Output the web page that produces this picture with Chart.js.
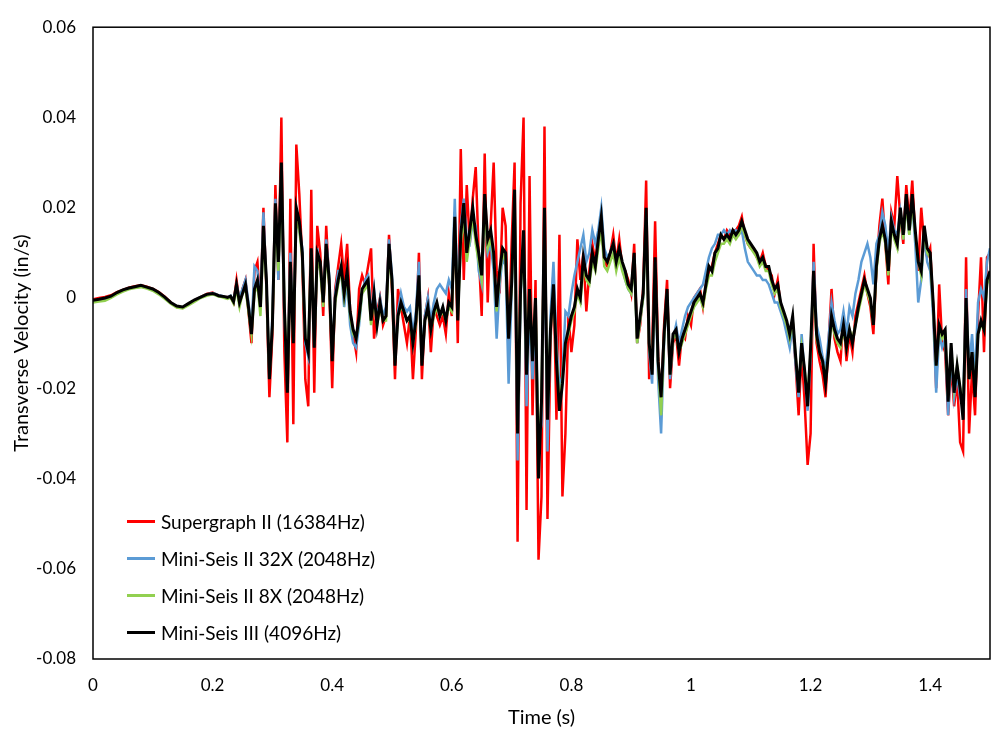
<!doctype html>
<html>
    <head>
        <meta charset="UTF-8" />
        <title>Transverse Velocity</title>
        <script src="https://cdn.jsdelivr.net/npm/chart.js"></script>
        <style>
            body { margin: 0; background: #fff; }
            #wrap { position: relative; width: 997px; height: 734px; }
            #legend { position: absolute; left: 127px; top: 503px; font-family: Lato, sans-serif; font-size: 19px; color: #000; }
            #legend div { height: 37px; display: flex; align-items: center; white-space: nowrap; }
            #legend span.sw { display: inline-block; width: 28px; height: 2.5px; margin-right: 6px; }
        </style>
    </head>

    <body>
        <div id="wrap">
            <canvas id="myChart"></canvas>
            <div id="legend"></div>
        </div>

        <script>
        // Sample times (s): 0.01 s steps in the quiet lead-in, 0.005 s afterwards
        var time = [
            0,0.01,0.02,0.03,0.04,0.05,0.06,0.07,0.08,0.09,
            0.1,0.11,0.12,0.13,0.14,0.15,0.16,0.17,0.18,0.19,
            0.2,0.205,0.21,0.215,0.22,0.225,0.23,0.235,0.24,0.245,
            0.25,0.255,0.26,0.265,0.27,0.275,0.28,0.285,0.29,0.295,
            0.3,0.305,0.31,0.315,0.32,0.325,0.33,0.335,0.34,0.345,
            0.35,0.355,0.36,0.365,0.37,0.375,0.38,0.385,0.39,0.395,
            0.4,0.405,0.41,0.415,0.42,0.425,0.43,0.435,0.44,0.445,
            0.45,0.455,0.46,0.465,0.47,0.475,0.48,0.485,0.49,0.495,
            0.5,0.505,0.51,0.515,0.52,0.525,0.53,0.535,0.54,0.545,
            0.55,0.555,0.56,0.565,0.57,0.575,0.58,0.585,0.59,0.595,
            0.6,0.605,0.61,0.615,0.62,0.625,0.63,0.635,0.64,0.645,
            0.65,0.655,0.66,0.665,0.67,0.675,0.68,0.685,0.69,0.695,
            0.7,0.705,0.71,0.715,0.72,0.725,0.73,0.735,0.74,0.745,
            0.75,0.755,0.76,0.765,0.77,0.775,0.78,0.785,0.79,0.795,
            0.8,0.805,0.81,0.815,0.82,0.825,0.83,0.835,0.84,0.845,
            0.85,0.855,0.86,0.865,0.87,0.875,0.88,0.885,0.89,0.895,
            0.9,0.905,0.91,0.915,0.92,0.925,0.93,0.935,0.94,0.945,
            0.95,0.955,0.96,0.965,0.97,0.975,0.98,0.985,0.99,0.995,
            1,1.005,1.01,1.015,1.02,1.025,1.03,1.035,1.04,1.045,
            1.05,1.055,1.06,1.065,1.07,1.075,1.08,1.085,1.09,1.095,
            1.1,1.105,1.11,1.115,1.12,1.125,1.13,1.135,1.14,1.145,
            1.15,1.155,1.16,1.165,1.17,1.175,1.18,1.185,1.19,1.195,
            1.2,1.205,1.21,1.215,1.22,1.225,1.23,1.235,1.24,1.245,
            1.25,1.255,1.26,1.265,1.27,1.275,1.28,1.285,1.29,1.295,
            1.3,1.305,1.31,1.315,1.32,1.325,1.33,1.335,1.34,1.345,
            1.35,1.355,1.36,1.365,1.37,1.375,1.38,1.385,1.39,1.395,
            1.4,1.405,1.41,1.415,1.42,1.425,1.43,1.435,1.44,1.445,
            1.45,1.455,1.46,1.465,1.47,1.475,1.48,1.485,1.49,1.495,
            1.5
        ];

        // Supergraph II (16384Hz), in/s
        var supergraph = [
            -0.0003,0.0000,0.0002,0.0006,0.0013,0.0018,0.0023,0.0026,0.0028,0.0025,
            0.0020,0.0013,0.0003,-0.0010,-0.0020,-0.0022,-0.0013,-0.0005,0.0002,0.0009,
            0.0012,0.0008,0.0006,0.0004,0.0002,0.0002,0.0003,-0.0010,0.004,-0.001,
            0.002,0.004,-0.003,-0.010,0.006,0.008,-0.002,0.020,0.002,-0.022,
            -0.008,0.025,0.004,0.040,-0.012,-0.032,0.022,-0.028,0.034,0.023,
            0.008,-0.018,-0.024,0.024,-0.021,0.016,0.010,-0.004,0.016,0.003,
            -0.020,0.002,0.007,0.012,0.004,0.012,-0.003,-0.008,-0.012,0.002,
            0.005,0.003,0.007,0.011,-0.009,-0.003,0.000,-0.006,-0.004,0.014,
            0.002,-0.018,0.002,-0.002,-0.006,-0.010,-0.004,-0.018,-0.007,0.010,
            -0.018,-0.004,0.000,-0.012,-0.002,-0.004,-0.006,-0.004,-0.008,0.001,
            -0.004,0.019,-0.010,0.033,0.004,0.025,0.012,0.022,0.029,0.010,
            -0.004,0.032,-0.001,0.016,0.030,0.006,0.001,0.020,0.016,-0.010,
            0.012,0.030,-0.054,0.021,0.040,-0.047,0.027,-0.026,0.004,-0.058,
            -0.044,0.038,-0.049,-0.010,0.006,-0.027,0.014,-0.044,-0.030,-0.004,
            -0.012,-0.006,0.013,0.004,0.010,-0.003,0.006,0.012,0.008,0.014,
            0.017,0.008,0.007,0.010,0.014,0.008,0.013,0.007,0.006,0.004,
            0.001,0.012,-0.010,-0.006,0.002,0.026,-0.018,-0.012,0.017,-0.013,
            -0.024,-0.006,0.004,-0.020,-0.010,-0.008,-0.015,-0.008,-0.009,-0.004,
            -0.006,0.000,0.001,0.002,-0.002,0.003,0.006,0.007,0.010,0.012,
            0.014,0.013,0.015,0.014,0.015,0.015,0.016,0.018,0.014,0.012,
            0.011,0.011,0.009,0.008,0.010,0.007,0.006,0.005,0.001,0.004,
            -0.002,-0.004,-0.007,-0.010,-0.005,-0.015,-0.026,-0.012,-0.023,-0.037,
            -0.030,0.012,-0.010,-0.014,-0.017,-0.022,-0.010,0.002,-0.009,-0.012,
            -0.014,-0.004,-0.014,-0.008,-0.012,-0.004,-0.001,0.002,0.005,0.001,
            -0.002,-0.008,0.006,0.016,0.022,0.012,0.003,0.019,0.016,0.027,
            0.018,0.012,0.025,0.017,0.026,0.014,0.006,0.020,0.012,0.009,
            0.011,-0.002,-0.020,0.003,-0.010,-0.012,-0.026,-0.015,-0.024,-0.018,
            -0.032,-0.034,0.009,-0.030,-0.016,-0.026,-0.004,0.009,-0.012,0.009,
            0.010
        ];

        // Mini-Seis II 32X (2048Hz)
        var miniSeis32x = [
            -0.0008,-0.0005,-0.0004,0.0002,0.0010,0.0016,0.0021,0.0024,0.0026,0.0023,
            0.0018,0.0010,0.0000,-0.0011,-0.0019,-0.0021,-0.0014,-0.0005,0.0002,0.0008,
            0.0011,0.0009,0.0006,0.0005,0.0003,0.0002,0.0005,-0.0006,0.003,0.000,
            0.002,0.004,-0.001,-0.007,0.007,0.006,-0.001,0.019,0.003,-0.017,
            -0.004,0.022,0.004,0.029,-0.004,-0.019,0.010,-0.008,0.019,0.015,
            0.011,-0.010,-0.013,0.010,-0.010,0.011,0.007,0.000,0.013,0.005,
            -0.013,0.001,0.006,0.006,-0.002,0.004,-0.006,-0.010,-0.011,-0.006,
            0.001,0.004,0.005,-0.004,0.002,-0.005,0.000,-0.004,-0.002,0.013,
            0.005,-0.013,-0.003,0.001,-0.002,-0.003,-0.002,-0.008,-0.003,0.008,
            -0.013,-0.004,0.000,-0.005,-0.001,0.002,0.003,0.002,0.001,0.004,
            0.002,0.022,-0.002,0.016,0.022,0.013,0.012,0.017,0.016,0.006,
            0.003,0.020,0.010,0.012,0.006,-0.009,0.003,0.009,0.007,-0.019,
            0.001,0.020,-0.036,0.000,0.012,-0.024,-0.002,-0.018,-0.004,-0.032,
            -0.028,0.016,-0.034,-0.004,0.008,-0.010,-0.020,-0.017,-0.003,-0.004,
            0.001,0.005,0.008,0.011,0.014,0.008,0.010,0.015,0.012,0.015,
            0.020,0.011,0.009,0.010,0.012,0.008,0.010,0.007,0.004,0.002,
            0.001,0.009,-0.010,-0.005,0.000,0.018,-0.012,-0.019,0.008,-0.018,
            -0.030,-0.010,0.001,-0.018,-0.009,-0.006,-0.010,-0.007,-0.004,-0.002,
            -0.001,0.000,0.001,0.002,0.003,0.006,0.009,0.011,0.012,0.014,
            0.014,0.015,0.014,0.015,0.014,0.015,0.014,0.015,0.011,0.008,
            0.007,0.006,0.005,0.005,0.004,0.004,0.003,0.001,-0.001,-0.001,
            -0.003,-0.005,-0.008,-0.011,-0.006,-0.015,-0.022,-0.008,-0.017,-0.025,
            -0.013,0.008,-0.006,-0.009,-0.013,-0.016,-0.009,-0.001,-0.005,-0.008,
            -0.007,-0.003,-0.008,-0.002,-0.004,0.001,0.004,0.008,0.010,0.012,
            0.009,0.003,0.012,0.014,0.019,0.016,0.010,0.018,0.015,0.014,
            0.019,0.013,0.021,0.014,0.021,0.012,-0.001,0.004,0.014,0.008,
            0.006,-0.004,-0.021,-0.008,-0.011,-0.009,-0.026,-0.013,-0.022,-0.017,
            -0.022,-0.024,0.002,-0.016,-0.008,-0.018,-0.001,0.002,0.000,0.008,
            0.011
        ];

        // Mini-Seis II 8X (2048Hz)
        var miniSeis8x = [
            -0.0010,-0.0008,-0.0006,0.0000,0.0008,0.0014,0.0019,0.0022,0.0024,0.0021,
            0.0016,0.0008,-0.0002,-0.0013,-0.0021,-0.0023,-0.0016,-0.0008,0.0000,0.0005,
            0.0008,0.0006,0.0003,0.0002,0.0000,-0.0002,0.0001,-0.0012,0.002,-0.002,
            0.001,0.002,-0.003,-0.008,0.001,0.003,-0.004,0.014,0.003,-0.017,
            -0.006,0.019,0.006,0.027,-0.001,-0.019,0.006,-0.009,0.018,0.015,
            0.009,-0.009,-0.011,0.010,-0.010,0.009,0.006,-0.002,0.010,0.003,
            -0.013,-0.001,0.003,0.006,0.000,0.005,-0.004,-0.008,-0.009,-0.005,
            0.001,0.002,0.003,-0.006,0.000,-0.006,-0.002,-0.005,-0.005,0.010,
            0.003,-0.014,-0.004,-0.002,-0.003,-0.005,-0.005,-0.010,-0.006,0.004,
            -0.014,-0.005,-0.003,-0.007,-0.004,-0.002,-0.004,-0.003,-0.005,-0.002,
            -0.003,0.016,-0.004,0.012,0.018,0.008,0.013,0.018,0.012,0.008,
            0.004,0.020,0.011,0.013,0.009,-0.003,0.005,0.010,0.008,-0.008,
            0.002,0.021,-0.027,0.001,0.013,-0.016,0.001,-0.013,-0.001,-0.036,
            -0.022,0.017,-0.025,-0.007,0.002,-0.013,-0.023,-0.018,-0.010,-0.008,
            -0.005,-0.003,0.001,-0.001,0.007,0.004,0.003,0.008,0.006,0.011,
            0.015,0.007,0.006,0.008,0.010,0.006,0.009,0.006,0.004,0.002,
            0.001,0.008,-0.010,-0.005,0.000,0.017,-0.011,-0.016,0.007,-0.015,
            -0.026,-0.009,0.001,-0.017,-0.009,-0.008,-0.012,-0.010,-0.008,-0.006,
            -0.004,-0.002,-0.001,0.000,-0.002,0.002,0.005,0.005,0.008,0.010,
            0.012,0.012,0.013,0.012,0.014,0.013,0.014,0.016,0.014,0.012,
            0.011,0.010,0.009,0.007,0.008,0.006,0.006,0.003,0.001,0.002,
            -0.002,-0.004,-0.006,-0.009,-0.005,-0.013,-0.020,-0.011,-0.016,-0.022,
            -0.012,0.004,-0.009,-0.012,-0.014,-0.018,-0.012,-0.005,-0.008,-0.010,
            -0.011,-0.007,-0.011,-0.007,-0.009,-0.006,-0.003,0.000,0.003,0.001,
            -0.001,-0.006,0.006,0.012,0.015,0.012,0.005,0.016,0.013,0.011,
            0.019,0.013,0.021,0.014,0.021,0.014,0.008,0.005,0.015,0.010,
            0.009,-0.002,-0.015,-0.007,-0.009,-0.008,-0.022,-0.011,-0.020,-0.015,
            -0.020,-0.025,-0.002,-0.018,-0.012,-0.021,-0.008,-0.006,-0.007,0.003,
            0.005
        ];

        // Mini-Seis III (4096Hz)
        var miniSeis3 = [
            -0.0005,-0.0003,0.0000,0.0004,0.0012,0.0018,0.0022,0.0025,0.0028,0.0024,
            0.0020,0.0012,0.0002,-0.0010,-0.0018,-0.0020,-0.0012,-0.0004,0.0002,0.0008,
            0.0010,0.0008,0.0005,0.0004,0.0003,0.0001,0.0004,-0.0008,0.003,-0.001,
            0.001,0.003,-0.002,-0.008,0.002,0.004,-0.002,0.016,0.004,-0.018,
            -0.006,0.021,0.008,0.030,-0.002,-0.021,0.008,-0.010,0.020,0.017,
            0.010,-0.009,-0.012,0.011,-0.011,0.010,0.008,-0.001,0.012,0.004,
            -0.014,0.000,0.004,0.007,0.001,0.006,-0.003,-0.007,-0.009,-0.004,
            0.002,0.003,0.004,-0.005,0.001,-0.006,-0.001,-0.005,-0.004,0.012,
            0.004,-0.015,-0.004,-0.001,-0.003,-0.005,-0.004,-0.010,-0.005,0.005,
            -0.015,-0.005,-0.002,-0.007,-0.003,-0.001,-0.004,-0.002,-0.005,-0.001,
            -0.002,0.018,-0.005,0.014,0.021,0.010,0.015,0.020,0.014,0.010,
            0.005,0.023,0.013,0.015,0.010,-0.002,0.006,0.011,0.010,-0.009,
            0.003,0.024,-0.030,0.002,0.015,-0.017,0.002,-0.014,0.000,-0.040,
            -0.023,0.020,-0.027,-0.007,0.003,-0.014,-0.025,-0.019,-0.010,-0.007,
            -0.004,-0.002,0.002,0.000,0.009,0.005,0.004,0.010,0.007,0.013,
            0.018,0.009,0.008,0.010,0.012,0.008,0.011,0.008,0.006,0.003,
            0.002,0.010,-0.009,-0.004,0.001,0.020,-0.010,-0.017,0.009,-0.014,
            -0.022,-0.008,0.002,-0.017,-0.008,-0.007,-0.012,-0.009,-0.007,-0.005,
            -0.003,-0.001,0.000,0.001,-0.001,0.003,0.007,0.006,0.010,0.011,
            0.014,0.013,0.014,0.013,0.015,0.014,0.015,0.017,0.015,0.013,
            0.012,0.011,0.010,0.008,0.009,0.007,0.007,0.004,0.002,0.003,
            -0.001,-0.003,-0.005,-0.008,-0.004,-0.013,-0.021,-0.010,-0.016,-0.024,
            -0.011,0.006,-0.008,-0.012,-0.014,-0.019,-0.012,-0.004,-0.007,-0.009,
            -0.010,-0.006,-0.011,-0.007,-0.010,-0.006,-0.002,0.001,0.004,0.002,
            0.000,-0.006,0.007,0.013,0.016,0.013,0.006,0.017,0.014,0.012,
            0.020,0.014,0.023,0.015,0.023,0.015,0.008,0.006,0.016,0.011,
            0.010,-0.001,-0.015,-0.006,-0.008,-0.007,-0.023,-0.010,-0.021,-0.015,
            -0.020,-0.027,0.000,-0.018,-0.012,-0.022,-0.008,-0.005,-0.007,0.004,
            0.006
        ];

        var seriesNames = ['Supergraph II (16384Hz)', 'Mini-Seis II 32X (2048Hz)', 'Mini-Seis II 8X (2048Hz)', 'Mini-Seis III (4096Hz)'];
        var seriesColors = ['#FF0000', '#5B9BD5', '#92D050', '#000000'];

        var xTicks = [0, 0.2, 0.4, 0.6, 0.8, 1, 1.2, 1.4];
        var xTickLabels = ['0', '0.2', '0.4', '0.6', '0.8', '1', '1.2', '1.4'];
        var yTicks = [-0.08, -0.06, -0.04, -0.02, 0, 0.02, 0.04, 0.06];
        var yTickLabels = ['-0.08', '-0.06', '-0.04', '-0.02', '0', '0.02', '0.04', '0.06'];

        function points(values) {
            if (values.length !== time.length) console.error('length mismatch', values.length, time.length);
            return time.map(function (t, i) { return { x: t, y: values[i] }; });
        }

        // plot frame on all four sides
        var frame = {
            id: 'frame',
            afterDraw: function (chart) {
                var a = chart.chartArea, c = chart.ctx;
                c.save();
                c.strokeStyle = '#000';
                c.lineWidth = 1.5;
                c.strokeRect(a.left, a.top, a.right - a.left, a.bottom - a.top);
                c.restore();
            }
        };

        var tickFont = { family: 'Lato', size: 17 };
        var titleFont = { family: 'Lato', size: 20 };

        var ctx = document.getElementById('myChart').getContext('2d');
        var myChart = new Chart(ctx, {
            type: 'line',
            data: {
                datasets: [
                    { label: seriesNames[0], data: points(supergraph), borderColor: seriesColors[0], borderWidth: 2.5, order: 4 },
                    { label: seriesNames[1], data: points(miniSeis32x), borderColor: seriesColors[1], borderWidth: 2.5, order: 3 },
                    { label: seriesNames[2], data: points(miniSeis8x), borderColor: seriesColors[2], borderWidth: 2.5, order: 2 },
                    { label: seriesNames[3], data: points(miniSeis3), borderColor: seriesColors[3], borderWidth: 3, order: 1 }
                ]
            },
            options: {
                responsive: true,
                maintainAspectRatio: false,
                animation: false,
                events: [],
                elements: { point: { radius: 0 }, line: { tension: 0, fill: false } },
                layout: { padding: { top: 20, right: 7, left: 0, bottom: 0 } },
                plugins: { legend: { display: false }, tooltip: { enabled: false } },
                scales: {
                    x: {
                        type: 'linear',
                        min: 0,
                        max: 1.5,
                        grid: { display: false, drawTicks: false },
                        border: { display: false },
                        afterBuildTicks: function (s) { s.ticks = xTicks.map(function (v) { return { value: v }; }); },
                        afterFit: function (s) { s.height = 75; },
                        ticks: {
                            padding: 16,
                            color: '#000',
                            font: tickFont,
                            maxRotation: 0,
                            callback: function (v) { return xTickLabels[xTicks.indexOf(v)]; }
                        },
                        title: { display: true, text: 'Time (s)', color: '#000', font: titleFont, padding: { top: 4, bottom: 4 } }
                    },
                    y: {
                        min: -0.08,
                        max: 0.06,
                        grid: { display: false, drawTicks: false },
                        border: { display: false },
                        afterBuildTicks: function (s) { s.ticks = yTicks.map(function (v) { return { value: v }; }); },
                        afterFit: function (s) { s.width = 93; },
                        ticks: {
                            padding: 17,
                            color: '#000',
                            font: tickFont,
                            callback: function (v) { return yTickLabels[yTicks.indexOf(v)]; }
                        },
                        title: { display: true, text: 'Transverse Velocity (in/s)', color: '#000', font: titleFont, padding: { top: 10, bottom: 10 } }
                    }
                }
            },
            plugins: [frame]
        });

        // legend sits inside the plot, bottom left
        var legend = document.getElementById('legend');
        seriesNames.forEach(function (name, i) {
            var row = document.createElement('div');
            var sw = document.createElement('span');
            sw.className = 'sw';
            sw.style.background = seriesColors[i];
            row.appendChild(sw);
            row.appendChild(document.createTextNode(name));
            legend.appendChild(row);
        });
        </script>
    </body>
</html>
